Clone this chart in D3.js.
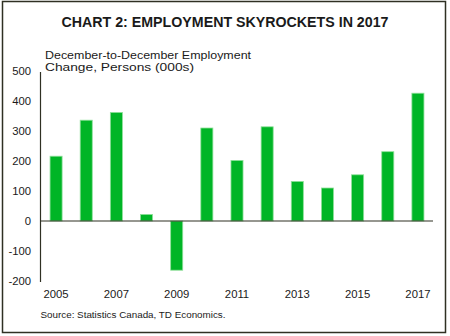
<!DOCTYPE html>
<html><head><meta charset="utf-8">
<script src="https://cdn.jsdelivr.net/npm/d3@7"></script>
<style>html,body{margin:0;padding:0;background:#fff;}svg{display:block;font-family:"Liberation Sans",Arial,sans-serif;}</style>
</head><body>
<script>
const years = [2005,2006,2007,2008,2009,2010,2011,2012,2013,2014,2015,2016,2017];
const values = [216,336,362,22,-164,310,202,314,132,110,154,231,426];
const yTicks = [-200,-100,0,100,200,300,400,500];
const xLabels = [2005,2007,2009,2011,2013,2015,2017];

const W=450,H=336;
const svg=d3.select("body").append("svg").attr("width",W).attr("height",H);
svg.append("rect").attr("x",2.5).attr("y",1.5).attr("width",443).attr("height",331)
  .attr("fill","#fff").attr("stroke","#2f3023").attr("stroke-width",1.5);

svg.append("text").attr("x",225).attr("y",27).attr("text-anchor","middle")
  .attr("font-size",14).attr("font-weight","bold").attr("fill","#1a1a1a")
  .attr("textLength",327).attr("lengthAdjust","spacingAndGlyphs")
  .text("CHART 2: EMPLOYMENT SKYROCKETS IN 2017");

const x=d3.scaleBand().domain(years).range([41,433]).paddingInner(0.6).paddingOuter(0.3);
const y=d3.scaleLinear().domain([-200,500]).range([281,71]);

svg.selectAll("rect.bar").data(values).join("rect").attr("class","bar")
  .attr("x",(d,i)=>x(years[i])).attr("width",x.bandwidth())
  .attr("y",d=>y(Math.max(0,d))).attr("height",d=>Math.abs(y(d)-y(0)))
  .attr("fill","#00b526").attr("stroke","#8fe09a").attr("stroke-width",0.8);

// zero line
svg.append("line").attr("x1",40.5).attr("x2",433).attr("y1",y(0)).attr("y2",y(0))
  .attr("stroke","#2f3023").attr("stroke-width",1.2);
// y axis
svg.append("line").attr("x1",40.5).attr("x2",40.5).attr("y1",y(500)+1).attr("y2",y(-200)+1)
  .attr("stroke","#2f3023").attr("stroke-width",1.2);

svg.selectAll("text.yt").data(yTicks).join("text").attr("class","yt")
  .attr("x",31).attr("y",d=>y(d)+4).attr("text-anchor","end")
  .attr("font-size",11.3).attr("fill","#1a1a1a").text(d=>d);

svg.selectAll("text.xt").data(xLabels).join("text").attr("class","xt")
  .attr("x",d=>x(d)+x.bandwidth()/2).attr("y",298).attr("text-anchor","middle")
  .attr("font-size",11.3).attr("fill","#1a1a1a").text(d=>d);

svg.append("text").attr("x",45).attr("y",58.5).attr("font-size",11).attr("fill","#1a1a1a")
  .attr("textLength",206).attr("lengthAdjust","spacingAndGlyphs")
  .text("December-to-December Employment");
svg.append("text").attr("x",45).attr("y",70.5).attr("font-size",11).attr("fill","#1a1a1a")
  .attr("textLength",149).attr("lengthAdjust","spacingAndGlyphs")
  .text("Change, Persons (000s)");

svg.append("text").attr("x",40.5).attr("y",318).attr("font-size",9.6).attr("fill","#1a1a1a")
  .attr("textLength",185).attr("lengthAdjust","spacingAndGlyphs")
  .text("Source: Statistics Canada, TD Economics.");
</script>
</body></html>
